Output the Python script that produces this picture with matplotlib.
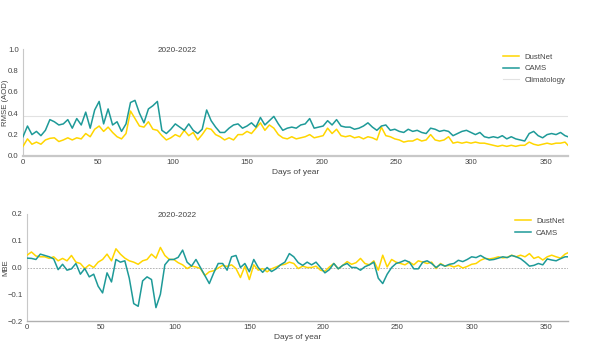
import matplotlib
matplotlib.use("Agg")
import matplotlib.pyplot as plt
import numpy as np

plt.rcParams['font.family'] = ['Liberation Sans', 'DejaVu Sans']

days = list(range(0, 364, 3)) + [365]

rmse_cams = [0.18, 0.28, 0.20, 0.23, 0.19, 0.24, 0.34, 0.32, 0.29, 0.30,
             0.34, 0.26, 0.35, 0.29, 0.41, 0.26, 0.43, 0.51, 0.30, 0.44,
             0.29, 0.32, 0.23, 0.30, 0.50, 0.52, 0.40, 0.31, 0.44, 0.47,
             0.51, 0.24, 0.21, 0.25, 0.30, 0.27, 0.24, 0.30, 0.24, 0.21,
             0.25, 0.43, 0.33, 0.27, 0.22, 0.22, 0.26, 0.29, 0.30, 0.26,
             0.28, 0.31, 0.27, 0.36, 0.29, 0.33, 0.37, 0.30, 0.24, 0.26,
             0.27, 0.26, 0.29, 0.30, 0.35, 0.26, 0.27, 0.28, 0.33, 0.29,
             0.34, 0.28, 0.27, 0.27, 0.25, 0.26, 0.28, 0.31, 0.27, 0.24,
             0.28, 0.29, 0.24, 0.25, 0.23, 0.22, 0.25, 0.23, 0.24, 0.22,
             0.21, 0.26, 0.25, 0.23, 0.24, 0.23, 0.19, 0.21, 0.23, 0.24,
             0.22, 0.20, 0.22, 0.18, 0.17, 0.18, 0.17, 0.19, 0.16, 0.18,
             0.16, 0.15, 0.14, 0.21, 0.23, 0.19, 0.17, 0.20, 0.21, 0.20,
             0.22, 0.19, 0.18]

rmse_dustnet = [0.09, 0.16, 0.11, 0.13, 0.11, 0.15, 0.165, 0.17, 0.135, 0.15,
                0.17, 0.15, 0.17, 0.16, 0.21, 0.18, 0.25, 0.28, 0.23, 0.27,
                0.22, 0.18, 0.16, 0.21, 0.42, 0.35, 0.28, 0.27, 0.32, 0.25,
                0.24, 0.19, 0.15, 0.17, 0.20, 0.18, 0.24, 0.19, 0.22, 0.15,
                0.20, 0.26, 0.25, 0.20, 0.18, 0.15, 0.17, 0.15, 0.20, 0.20,
                0.23, 0.21, 0.26, 0.31, 0.24, 0.29, 0.26, 0.20, 0.17, 0.16,
                0.18, 0.16, 0.17, 0.18, 0.20, 0.17, 0.18, 0.19, 0.26, 0.21,
                0.25, 0.19, 0.18, 0.19, 0.17, 0.18, 0.16, 0.18, 0.17, 0.15,
                0.27, 0.19, 0.18, 0.16, 0.15, 0.13, 0.14, 0.14, 0.16, 0.14,
                0.15, 0.20, 0.15, 0.14, 0.15, 0.18, 0.12, 0.13, 0.12, 0.13,
                0.12, 0.13, 0.12, 0.12, 0.11, 0.10, 0.09, 0.10, 0.09, 0.10,
                0.09, 0.10, 0.10, 0.13, 0.11, 0.10, 0.11, 0.12, 0.11, 0.12,
                0.12, 0.13, 0.10]

climatology_rmse = 0.375

mbe_cams = [0.035, 0.034, 0.030, 0.050, 0.045, 0.040, 0.032, -0.008, 0.012, -0.010,
            -0.005, 0.015, -0.025, -0.004, -0.035, -0.025, -0.070, -0.095, -0.020, -0.054,
            0.030, 0.020, 0.025, -0.040, -0.135, -0.145, -0.050, -0.035, -0.045, -0.150,
            -0.100, 0.010, 0.030, 0.030, 0.038, 0.065, 0.020, 0.005, 0.030, 0.000,
            -0.030, -0.060, -0.020, 0.015, 0.015, -0.010, 0.040, 0.045, 0.000, 0.015,
            -0.016, 0.030, 0.000, -0.018, 0.000, -0.015, -0.005, 0.010, 0.020, 0.052,
            0.040, 0.018, 0.008, 0.020, 0.010, 0.020, 0.000, -0.020, -0.008, 0.015,
            -0.005, 0.008, 0.015, 0.000, 0.000, -0.010, 0.003, 0.010, 0.020, -0.040,
            -0.060, -0.025, 0.000, 0.015, 0.020, 0.027, 0.020, -0.005, -0.005, 0.020,
            0.025, 0.015, 0.000, 0.012, 0.005, 0.012, 0.015, 0.027, 0.022, 0.030,
            0.040, 0.037, 0.045, 0.035, 0.028, 0.030, 0.035, 0.040, 0.037, 0.045,
            0.040, 0.033, 0.020, 0.005, 0.008, 0.015, 0.010, 0.032, 0.028, 0.025,
            0.033, 0.040, 0.040]

mbe_dustnet = [0.046, 0.058, 0.043, 0.040, 0.040, 0.034, 0.040, 0.025, 0.034, 0.025,
               0.045, 0.020, 0.015, -0.004, 0.010, 0.000, 0.020, 0.030, 0.050, 0.025,
               0.070, 0.050, 0.035, 0.025, 0.020, 0.012, 0.025, 0.030, 0.050, 0.035,
               0.075, 0.045, 0.030, 0.030, 0.018, 0.010, -0.004, 0.005, 0.002, -0.004,
               -0.030, -0.016, -0.012, -0.002, 0.008, 0.004, 0.010, -0.004, -0.0375, 0.005,
               -0.045, 0.010, -0.010, -0.004, -0.016, -0.005, 0.002, 0.009, 0.012, 0.020,
               0.015, -0.004, 0.005, 0.000, 0.000, 0.005, -0.010, -0.014, 0.002, 0.015,
               -0.005, 0.008, 0.022, 0.012, 0.018, 0.034, 0.015, 0.010, 0.025, -0.010,
               0.046, 0.002, 0.030, 0.020, 0.015, 0.010, 0.020, 0.010, 0.025, 0.020,
               0.015, 0.020, -0.004, 0.015, 0.005, 0.008, 0.002, 0.008, -0.002, 0.004,
               0.012, 0.015, 0.027, 0.034, 0.032, 0.035, 0.040, 0.036, 0.038, 0.046,
               0.040, 0.046, 0.040, 0.052, 0.034, 0.040, 0.028, 0.040, 0.046, 0.040,
               0.035, 0.050, 0.055]

period_label = "2020-2022"
c_dust = '#FFD600'
c_cams = '#1E9A98'
c_clim = '#E2E2E2'
txt = '#444444'
fs = 5.6

fig = plt.figure(figsize=(5.98, 3.43), dpi=100)

# ---- top: RMSE ----
ax1 = fig.add_axes([23/598, 1-156/343, 545/598, 107/343])
ax1.plot(days, rmse_dustnet, color=c_dust, lw=1.1, label='DustNet', zorder=3)
ax1.plot(days, rmse_cams, color=c_cams, lw=1.1, label='CAMS', zorder=4)
ax1.axhline(climatology_rmse, color=c_clim, lw=0.8, label='Climatology', zorder=1)
ax1.set_xlim(0, 365)
ax1.set_ylim(0, 1.0)
ax1.set_yticks([0, 0.2, 0.4, 0.6, 0.8, 1.0])
ax1.set_xticks([0, 50, 100, 150, 200, 250, 300, 350])
ax1.set_ylabel('RMSE (AOD)', fontsize=fs, color=txt)
ax1.yaxis.set_label_coords(-0.025, 0.5)
ax1.set_xlabel('Days of year', fontsize=fs + 0.4, color=txt, labelpad=2)
ax1.text(0.283, 0.99, period_label, transform=ax1.transAxes, ha='center', va='center',
         fontsize=fs + 0.3, color=txt)
leg1 = ax1.legend(loc='upper left', bbox_to_anchor=(0.881, 0.96), frameon=False,
                  fontsize=fs, handlelength=2.0, handletextpad=0.7, labelspacing=0.55,
                  borderaxespad=0, borderpad=0)
for t in leg1.get_texts():
    t.set_color(txt)

# ---- bottom: MBE ----
ax2 = fig.add_axes([27/598, 1-321/343, 541/598, 107/343])
ax2.plot(days, mbe_dustnet, color=c_dust, lw=1.1, label='DustNet', zorder=3)
ax2.plot(days, mbe_cams, color=c_cams, lw=1.1, label='CAMS', zorder=4)
ax2.axhline(0, color='#AAAAAA', lw=0.6, ls=(0, (2, 1.5)), zorder=1)
ax2.set_xlim(0, 365)
ax2.set_ylim(-0.2, 0.2)
ax2.set_yticks([-0.2, -0.1, 0.0, 0.1, 0.2])
ax2.set_xticks([0, 50, 100, 150, 200, 250, 300, 350])
ax2.set_ylabel('MBE', fontsize=fs, color=txt)
ax2.yaxis.set_label_coords(-0.032, 0.5)
ax2.set_xlabel('Days of year', fontsize=fs + 0.4, color=txt, labelpad=2)
ax2.text(0.277, 0.99, period_label, transform=ax2.transAxes, ha='center', va='center',
         fontsize=fs + 0.3, color=txt)
leg2 = ax2.legend(loc='upper left', bbox_to_anchor=(0.902, 0.965), frameon=False,
                  fontsize=fs, handlelength=2.0, handletextpad=0.7, labelspacing=0.55,
                  borderaxespad=0, borderpad=0)
for t in leg2.get_texts():
    t.set_color(txt)

for ax in (ax1, ax2):
    ax.spines['top'].set_visible(False)
    ax.spines['right'].set_visible(False)
    ax.spines['left'].set_color('#C8C8C8')
    ax.spines['left'].set_linewidth(0.8)
    ax.tick_params(axis='both', length=0, labelsize=fs, labelcolor=txt)
    ax.tick_params(axis='y', pad=3)
    ax.tick_params(axis='x', pad=2)
ax1.spines['bottom'].set_color('#C8C8C8')
ax1.spines['bottom'].set_linewidth(1.6)
ax2.spines['bottom'].set_color('#B0B0B0')
ax2.spines['bottom'].set_linewidth(1.0)

fig.savefig('out.png', dpi=100)
